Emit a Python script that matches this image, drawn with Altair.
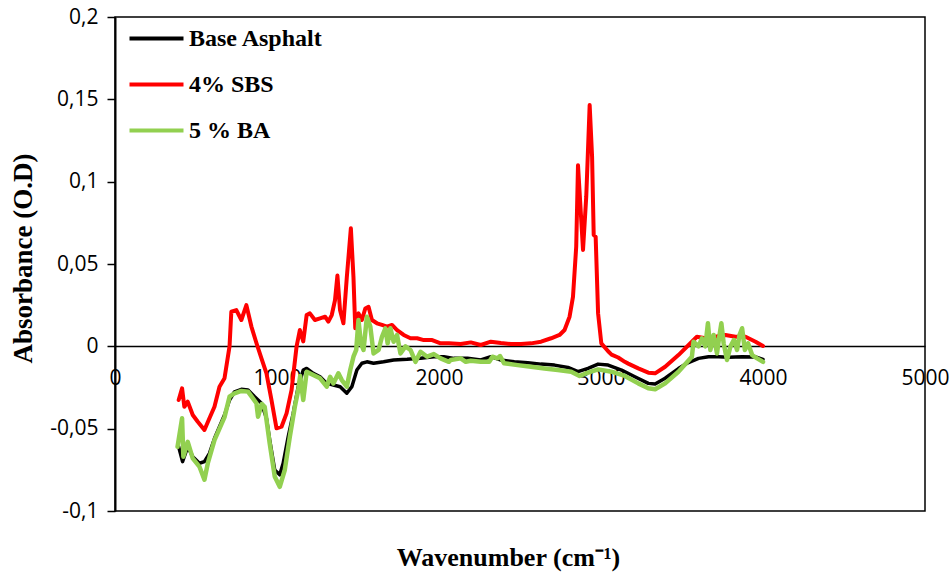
import altair as alt
import pandas as pd

# FTIR absorbance spectra of the three binders
base_wn = [393, 417, 449, 480, 521, 552, 583, 614, 645, 676, 707, 738, 780, 821, 862, 904,
           935, 955, 986, 1017, 1038, 1069, 1100, 1131, 1162, 1183, 1224, 1266, 1307, 1348,
           1390, 1431, 1462, 1493, 1524, 1555, 1596, 1658, 1720, 1803, 1886, 1968, 2030, 2092,
           2176, 2258, 2320, 2382, 2465, 2548, 2630, 2713, 2796, 2858, 2920, 2982, 3044, 3127,
           3209, 3292, 3334, 3396, 3478, 3536, 3602, 3664, 3726, 3788, 3871, 3954, 4000]
base_abs = [-0.061, -0.070, -0.061, -0.067, -0.071, -0.070, -0.065, -0.056, -0.0488, -0.0417,
            -0.0326, -0.0276, -0.0261, -0.0265, -0.0306, -0.0346, -0.0437, -0.0569, -0.0751,
            -0.078, -0.071, -0.055, -0.0407, -0.0245, -0.0144, -0.0134, -0.0164, -0.0185,
            -0.0225, -0.0235, -0.0245, -0.0285, -0.0245, -0.0144, -0.0103, -0.0094, -0.0103,
            -0.0094, -0.0083, -0.0079, -0.0073, -0.0063, -0.0063, -0.0073, -0.0073, -0.0083,
            -0.0063, -0.0083, -0.0094, -0.0100, -0.0108, -0.0114, -0.0128, -0.0154, -0.0134,
            -0.0108, -0.0114, -0.0144, -0.0185, -0.0225, -0.0229, -0.0194, -0.0135, -0.0100,
            -0.0073, -0.0063, -0.0063, -0.0067, -0.0063, -0.0065, -0.0079]

sbs_wn = [393, 414, 428, 449, 480, 511, 552, 583, 614, 645, 676, 707, 718, 749, 780, 811, 842,
          873, 904, 935, 966, 997, 1028, 1059, 1090, 1121, 1141, 1162, 1183, 1203, 1234, 1266,
          1297, 1317, 1338, 1358, 1373, 1389, 1410, 1431, 1456, 1472, 1483, 1503, 1524, 1545,
          1565, 1586, 1617, 1648, 1679, 1710, 1741, 1782, 1824, 1865, 1906, 1958, 2010, 2061,
          2134, 2196, 2258, 2320, 2382, 2444, 2506, 2568, 2630, 2692, 2744, 2775, 2806, 2827,
          2847, 2858, 2889, 2909, 2930, 2945, 2955, 2967, 2982, 3002, 3044, 3065, 3106, 3147,
          3168, 3230, 3292, 3334, 3396, 3478, 3561, 3592, 3644, 3706, 3768, 3830, 3892, 3954,
          4000]
sbs_abs = [-0.0326, -0.0255, -0.0367, -0.0336, -0.0417, -0.0458, -0.0508, -0.0437, -0.0367,
           -0.0245, -0.0194, 0.0, 0.021, 0.022, 0.016, 0.025, 0.012, 0.002, -0.0073, -0.0164,
           -0.0326, -0.0498, -0.0488, -0.0407, -0.0265, 0.0, 0.0099, 0.003, 0.019, 0.020, 0.016,
           0.017, 0.018, 0.015, 0.019, 0.028, 0.043, 0.022, 0.014, 0.042, 0.0717, 0.042, 0.011,
           0.020, 0.016, 0.023, 0.024, 0.016, 0.014, 0.013, 0.012, 0.013, 0.0099, 0.0069, 0.0049,
           0.0049, 0.0038, 0.0038, 0.0018, 0.0018, 0.0014, 0.0024, 0.0008, 0.0028, 0.0020,
           0.0014, 0.0014, 0.0018, 0.0028, 0.0049, 0.0069, 0.0099, 0.018, 0.030, 0.0605, 0.110,
           0.0585, 0.091, 0.1465, 0.115, 0.0676, 0.0666, 0.020, 0.0018, -0.003, -0.005, -0.0068,
           -0.0094, -0.0105, -0.0134, -0.016, -0.0164, -0.0124, -0.0053, 0.0028, 0.0058, 0.0049,
           0.0058, 0.0069, 0.0058, 0.0058, 0.0028, 0.0002]

ba_wn = [386, 414, 422, 449, 480, 521, 552, 573, 614, 645, 676, 707, 738, 780, 821, 873, 883,
         906, 924, 955, 986, 1017, 1048, 1079, 1110, 1131, 1143, 1162, 1183, 1224, 1266, 1307,
         1328, 1348, 1379, 1400, 1431, 1452, 1472, 1489, 1503, 1518, 1534, 1555, 1576, 1596,
         1627, 1648, 1669, 1683, 1700, 1720, 1741, 1762, 1793, 1824, 1855, 1886, 1927, 1968,
         2010, 2061, 2072, 2134, 2165, 2196, 2258, 2310, 2330, 2361, 2377, 2402, 2485, 2568,
         2651, 2734, 2816, 2868, 2920, 2982, 3065, 3147, 3230, 3292, 3334, 3396, 3478, 3561,
         3571, 3602, 3623, 3644, 3660, 3675, 3695, 3716, 3730, 3743, 3757, 3778, 3799, 3820,
         3840, 3855, 3871, 3888, 3908, 3933, 3964, 4000]
ba_abs = [-0.061, -0.0437, -0.067, -0.058, -0.068, -0.073, -0.081, -0.071, -0.057, -0.050,
          -0.043, -0.0306, -0.0285, -0.0271, -0.0275, -0.0346, -0.0427, -0.035, -0.0367, -0.059,
          -0.079, -0.0853, -0.0751, -0.055, -0.0367, -0.0265, -0.018, -0.0326, -0.0154, -0.0174,
          -0.0194, -0.0245, -0.0185, -0.0225, -0.0164, -0.0205, -0.0245, -0.0144, -0.0063,
          -0.0022, 0.016, 0.0018, -0.0022, 0.018, 0.012, -0.0043, -0.0022, 0.0058, 0.011, 0.0018,
          0.011, 0.0028, 0.0069, -0.0043, 0.0, -0.0022, -0.0094, -0.0033, -0.0063, -0.0047,
          -0.0073, -0.0094, -0.0083, -0.0073, -0.0094, -0.0088, -0.0094, -0.0094, -0.0063,
          -0.0073, -0.0059, -0.0103, -0.0114, -0.0124, -0.0134, -0.0144, -0.0154, -0.018, -0.016,
          -0.014, -0.0154, -0.018, -0.0225, -0.0255, -0.0261, -0.0225, -0.0154, -0.0063, 0.0028,
          0.0, 0.0049, 0.0, 0.014, -0.0022, 0.0069, -0.0043, 0.0058, 0.014, 0.0018, -0.0083, 0.0,
          0.0038, -0.0022, 0.0069, 0.011, -0.0022, 0.0018, -0.0053, -0.0073, -0.0094]

series_names = ["Base Asphalt", "4% SBS", "5 % BA"]
series_colors = ["#000000", "#FF0000", "#92D050"]
series_widths = [3.5, 4, 4.5]

x_ticks = [0, 1000, 2000, 3000, 4000, 5000]
y_ticks = [-0.1, -0.05, 0, 0.05, 0.1, 0.15, 0.2]

frames = []
for name, wn, ab in [(series_names[0], base_wn, base_abs),
                     (series_names[1], sbs_wn, sbs_abs),
                     (series_names[2], ba_wn, ba_abs)]:
    frames.append(pd.DataFrame({"wavenumber": wn, "absorbance": ab, "series": name}))
data = pd.concat(frames, ignore_index=True)

color = alt.Color(
    "series:N",
    scale=alt.Scale(domain=series_names, range=series_colors),
    legend=alt.Legend(
        title=None,
        orient="none",
        legendX=26,
        legendY=6,
        symbolType="M-2,0L2,0",
        symbolSize=729,
        symbolStrokeWidth=4,
        labelFont="Liberation Serif",
        labelFontWeight="bold",
        labelFontSize=24,
        labelColor="black",
        labelOffset=17,
        rowPadding=18,
        padding=0,
    ),
)

x_enc = alt.X(
    "wavenumber:Q",
    scale=alt.Scale(domain=[0, 5000], nice=False),
    axis=alt.Axis(
        values=x_ticks,
        format="d",
        title="Wavenumber (cm⁻¹)",
        titleFont="Liberation Serif",
        titleFontWeight="bold",
        titleFontSize=26,
        titleColor="black",
        titleX=393,
        titleY=211,
        titleBaseline="middle",
        offset=-165,
        ticks=False,
        domainColor="black",
        domainWidth=1.5,
        labelFont="Open Sans",
        labelFontSize=21,
        labelColor="black",
        labelPadding=21,
        labelFlush=False,
        labelOverlap=False,
        grid=False,
    ),
)

y_enc = alt.Y(
    "absorbance:Q",
    scale=alt.Scale(domain=[-0.1, 0.2], nice=False, zero=False),
    axis=alt.Axis(
        values=y_ticks,
        labelExpr="replace(toString(datum.value), '.', ',')",
        title="Absorbance (O.D)",
        titleFont="Liberation Serif",
        titleFontWeight="bold",
        titleFontSize=27,
        titleColor="black",
        titleAngle=-90,
        titleX=-92,
        titleY=241,
        titleBaseline="middle",
        tickSize=8,
        tickColor="black",
        tickWidth=1.5,
        domainColor="black",
        domainWidth=2,
        labelFont="Open Sans",
        labelFontSize=21,
        labelColor="black",
        labelPadding=9,
        labelFlush=False,
        labelOverlap=False,
        grid=False,
    ),
)

layers = []
for name, w in zip(series_names, series_widths):
    layers.append(
        alt.Chart(data)
        .transform_filter(alt.datum.series == name)
        .mark_line(strokeWidth=w, strokeJoin="round", strokeCap="round")
        .encode(x=x_enc, y=y_enc, color=color)
    )

chart = (
    alt.layer(*layers)
    .properties(
        width=810,
        height=494,
        padding={"left": 115, "top": 17, "right": 27, "bottom": 63},
        autosize=alt.AutoSizeParams(type="none"),
        background="white",
    )
    .configure_view(stroke="black", strokeWidth=1.5)
)

chart.save("out.html", embed_options={"renderer": "svg", "actions": False})
